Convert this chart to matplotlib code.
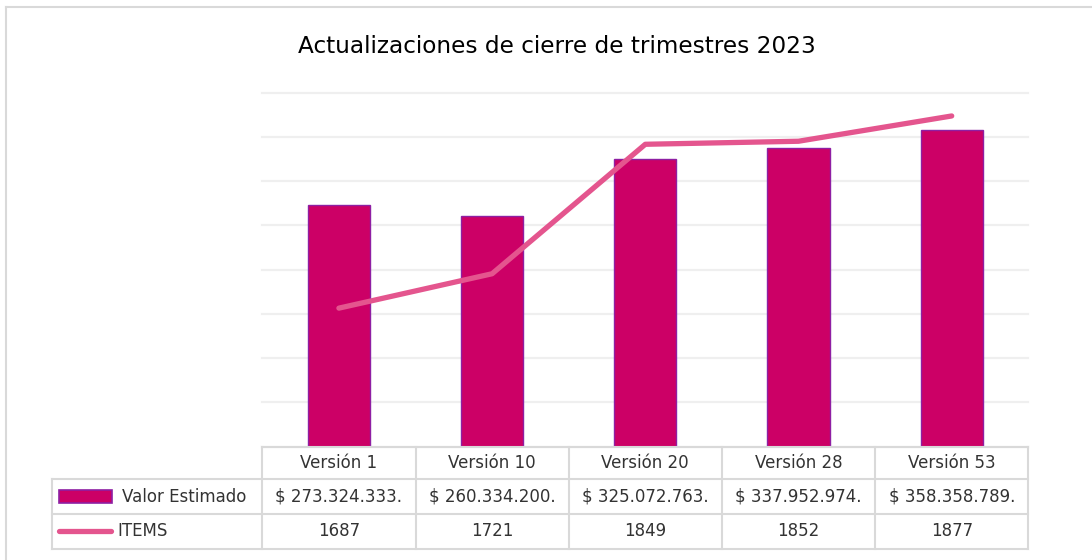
import numpy as np
import matplotlib.pyplot as plt
from matplotlib import transforms
from matplotlib.lines import Line2D
from matplotlib.patches import Rectangle

plt.rcParams['font.family'] = ['DejaVu Sans']

versiones = ['Versión 1', 'Versión 10', 'Versión 20', 'Versión 28', 'Versión 53']
valor = [273324333, 260334200, 325072763, 337952974, 358358789]
valor_txt = ['$ 273.324.333.', '$ 260.334.200.', '$ 325.072.763.', '$ 337.952.974.', '$ 358.358.789.']
items = [1687, 1721, 1849, 1852, 1877]

W, H = 1092, 560
fig = plt.figure(figsize=(W/100, H/100), dpi=100)

# plot area in pixels: x 262..1028, y 93..447
ax = fig.add_axes([262.3/W, 1-446.7/H, 766/W, 354/H])
x = np.arange(len(versiones))
ax.bar(x, valor, width=0.405, color='#cc0066', edgecolor='#8e1fa3', linewidth=1, zorder=2)
ax.set_xlim(-0.5, 4.5)
ax.set_ylim(0, 400e6)
ax.set_yticks(np.arange(0, 400e6+1, 50e6))
ax.grid(axis='y', color='#efefef', lw=1.6, zorder=0)
for gl in ax.yaxis.get_gridlines():
    gl.set_clip_on(False)
ax.set_axisbelow(True)

ax2 = ax.twinx()
ax2.plot(x, items, color='#e4558e', lw=3.8, solid_capstyle='round', zorder=3)
ax2.set_ylim(1550, 1900)
for a in (ax, ax2):
    for s in a.spines.values():
        s.set_visible(False)
    a.tick_params(left=False, right=False, bottom=False, labelleft=False,
                  labelright=False, labelbottom=False)

# data table below the plot
tr = transforms.blended_transform_factory(ax.transData, ax.transAxes)
px = 354.0
cw = 766/5.0
r = [0, -32.6/px, -67.3/px, -102/px]
leg_left = -0.5 + (51.7-262.3)/cw
tc = '#d9d9d9'
ax.plot([-0.5, 4.5], [r[0], r[0]], transform=tr, color=tc, lw=1.5, clip_on=False)
for ry in r[1:]:
    ax.plot([leg_left, 4.5], [ry, ry], transform=tr, color=tc, lw=1.5, clip_on=False)
for i in range(len(versiones)+1):
    ax.plot([i-0.5, i-0.5], [r[0], r[3]], transform=tr, color=tc, lw=1.5, clip_on=False)
ax.plot([leg_left, leg_left], [r[1], r[3]], transform=tr, color=tc, lw=1.5, clip_on=False)

fs = 12
tcol = '#333333'
for i in range(len(versiones)):
    ax.text(i, (r[0]+r[1])/2, versiones[i], transform=tr, ha='center', va='center', fontsize=fs, color=tcol)
    ax.text(i, (r[1]+r[2])/2, valor_txt[i], transform=tr, ha='center', va='center', fontsize=fs, color=tcol)
    ax.text(i, (r[2]+r[3])/2, str(items[i]), transform=tr, ha='center', va='center', fontsize=fs, color=tcol)

# legend keys
def dx(p):
    return -0.5 + (p-262.3)/cw

ax.add_patch(Rectangle((dx(59), (446.7-502.7)/px), dx(111.7)-dx(59), 12.7/px, transform=tr,
                       facecolor='#cc0066', edgecolor='#8e1fa3', lw=1.2, clip_on=False))
ax.text(dx(121.7), (r[1]+r[2])/2, 'Valor Estimado', transform=tr,
        ha='left', va='center', fontsize=fs, color=tcol)
ax.plot([dx(59), dx(111)], [(446.7-530.7)/px]*2, transform=tr, color='#e4558e',
        lw=3.8, solid_capstyle='round', clip_on=False)
ax.text(dx(117), (r[2]+r[3])/2, 'ITEMS', transform=tr,
        ha='left', va='center', fontsize=fs, color=tcol)

fig.text(557/W, 1-53/H, 'Actualizaciones de cierre de trimestres 2023', ha='center', va='baseline',
         fontsize=16.7, color='black')

# chart border
fig.add_artist(Line2D([5.5/W, 5.5/W], [0, 1-7/H], transform=fig.transFigure, color='#d9d9d9', lw=1.5))
fig.add_artist(Line2D([5.5/W, 1], [1-7/H, 1-7/H], transform=fig.transFigure, color='#d9d9d9', lw=1.5))

fig.savefig('out.png', dpi=100)
